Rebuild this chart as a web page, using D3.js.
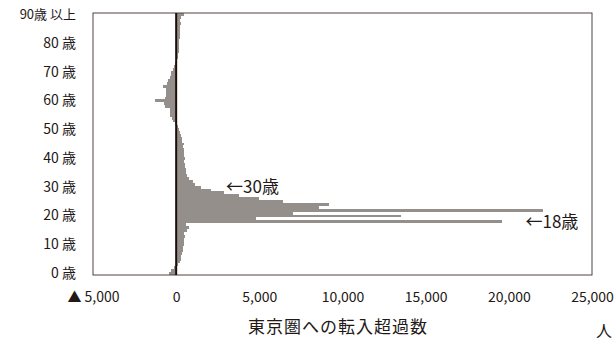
<!DOCTYPE html>
<html><head><meta charset="utf-8">
<script src="https://cdn.jsdelivr.net/npm/d3@7"></script>
<style>
html,body{margin:0;padding:0;background:#fff;}
svg{display:block;font-family:"Noto Sans CJK JP","Noto Sans",sans-serif;}
</style></head>
<body><svg id="c" width="616" height="344"></svg>
<script>
// ages 0..90 (90 = 90歳以上)
const ages = d3.range(0, 91);
const netInflow = [
  -450, -300, -150, 100, 250, 300, 300, 350, 400, 400,
  450, 450, 500, 550, 500, 650, 750, 600, 19560, 4820,
  13530, 7000, 22030, 8610, 9180, 6400, 5000, 3800, 2900, 2100,
  1500, 1150, 1000, 800, 650, 600, 600, 550, 550, 500,
  550, 450, 500, 450, 400, 450, 350, 350, 300, 250,
  200, 100, -100, -200, -250, -350, -380, -400, -700, -750,
  -1250, -650, -620, -600, -600, -780, -550, -500, -350, -320,
  -300, -180, -120, -50, 50, 100, 100, 150, 150, 200,
  200, 200, 250, 250, 250, 250, 250, 300, 250, 300,
  450
];
const yTickAges = [0, 10, 20, 30, 40, 50, 60, 70, 80, 90];
const yTickLabels = ["0 歳", "10 歳", "20 歳", "30 歳", "40 歳", "50 歳", "60 歳", "70 歳", "80 歳", "90歳 以上"];
const xTicks = [-5000, 0, 5000, 10000, 15000, 20000, 25000];
const xTickLabels = ["▲ 5,000", "0", "5,000", "10,000", "15,000", "20,000", "25,000"];
const annoAges = [30, 18];
const annoTexts = ["←30歳", "←18歳"];
const xTitle = "東京圏への転入超過数";
const unitLabel = "人";

const svg = d3.select("#c");
const L = 93, R = 592, T = 13, B = 275;
const x = d3.scaleLinear().domain([-5000, 25000]).range([L, R]);
const y = d3.scaleBand().domain(ages).range([B, T]).paddingInner(0).paddingOuter(0.02);
const textCol = "#231815";

// bars
svg.append("g").attr("shape-rendering", "crispEdges")
  .selectAll("rect").data(ages).join("rect")
  .attr("x", a => x(Math.min(0, netInflow[a])))
  .attr("width", a => Math.abs(x(netInflow[a]) - x(0)))
  .attr("y", a => y(a))
  .attr("height", y.bandwidth())
  .attr("fill", "#958f8b");

// frame
svg.append("rect").attr("x", L).attr("y", T).attr("width", R - L).attr("height", B - T)
  .attr("fill", "none").attr("stroke", "#4e4440").attr("stroke-width", 1);

// zero line
svg.append("line").attr("x1", x(0)).attr("x2", x(0)).attr("y1", T).attr("y2", B)
  .attr("stroke", "#1a0d0a").attr("stroke-width", 2);

// x axis labels
const xAxis = d3.axisBottom(x).tickValues(xTicks).tickSize(0).tickPadding(0)
  .tickFormat((d, i) => xTickLabels[i]);
const gx = svg.append("g").attr("transform", `translate(0,${B + 17})`).call(xAxis);
gx.select(".domain").remove();
gx.selectAll("text").attr("font-size", 14).attr("fill", textCol)
  .attr("font-family", '"Noto Sans CJK JP",sans-serif');

// y axis labels
const yAxis = d3.axisLeft(y).tickValues(yTickAges).tickSize(0).tickPadding(0)
  .tickFormat(a => yTickLabels[yTickAges.indexOf(a)]);
const gy = svg.append("g").attr("transform", `translate(${L - 17},0)`).call(yAxis);
gy.select(".domain").remove();
gy.selectAll("text").attr("font-size", 14).attr("fill", textCol)
  .attr("font-family", '"Noto Sans CJK JP",sans-serif');
gy.selectAll("text").filter(a => a === 90).attr("font-size", 13);

// axis title and unit
svg.append("text").attr("x", 338).attr("y", 333).attr("text-anchor", "middle")
  .attr("font-size", 17).attr("letter-spacing", "1px").attr("fill", textCol).text(xTitle);
svg.append("text").attr("x", 604).attr("y", 337).attr("text-anchor", "middle")
  .attr("font-size", 16).attr("fill", textCol).text(unitLabel);

// annotations
const annoX = [3000, 21000];
svg.append("g").selectAll("text").data(annoAges).join("text")
  .attr("x", (a, i) => x(annoX[i]))
  .attr("y", a => y(a) + y.bandwidth() / 2)
  .attr("dy", "0.36em")
  .attr("font-size", 17).attr("fill", textCol)
  .text((a, i) => annoTexts[i]);
</script></body></html>
